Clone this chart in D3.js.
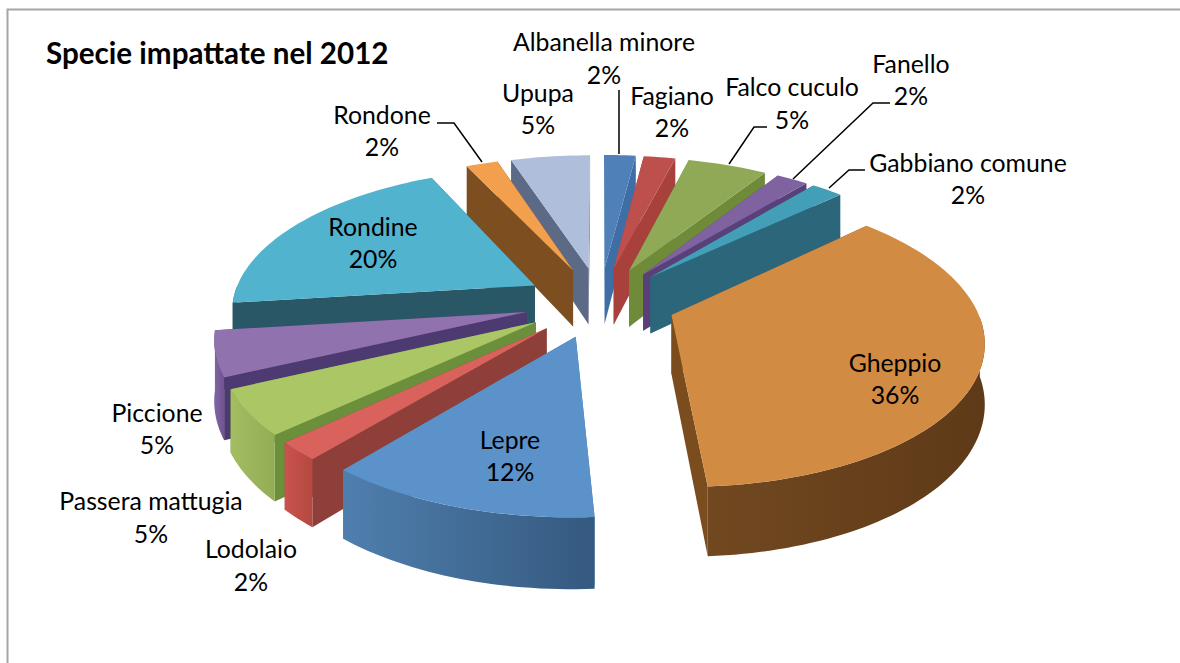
<!DOCTYPE html>
<html><head><meta charset="utf-8">
<script src="https://cdn.jsdelivr.net/npm/d3@7/dist/d3.min.js"></script>
<style>html,body{margin:0;padding:0;background:#fff;overflow:hidden}svg{display:block}
text{font-family:Lato,"Open Sans",sans-serif;fill:#000}</style></head><body>
<script>
const species = ["Albanella minore","Fagiano","Falco cuculo","Fanello","Gabbiano comune","Gheppio","Lepre","Lodolaio","Passera mattugia","Piccione","Rondine","Rondone","Upupa"];
const shares  = [2,2,5,2,2,36,12,2,5,5,20,2,5];
const title = "Specie impattate nel 2012";

const topColors    = ["#4f81b8","#bd504c","#8fa956","#7f62a0","#439fb8","#d28b43","#5b92c9","#d9625d","#abc765","#8f72ae","#52b3cf","#f2a04e","#afbedb"];
const radialColors = ["#3f6ea6","#a8403c","#6f8a38","#5a4079","#2b667a","#7a4c1e","#4a7cb0","#8f3f3a","#6c8f3c","#4d3a70","#2a5766","#7d4e20","#5d6a85"];
const outerFrom    = ["#4a78ad","#b04a46","#8aa050","#7a5f98","#2e6d82","#714820","#4f7fae","#c9534f","#a2bd62","#8265a5","#2a5766","#7d4e20","#8a97b5"];
const outerTo      = ["#3f6a9a","#9a403c","#72893f","#5f4680","#2a6074","#5f3a18","#35597f","#b5483f","#93ad55","#6f5490","#2a5766","#7d4e20","#8a97b5"];

// label block centres: [x, first line y, second line y]
const labelSpots = [[604,41,74],[672,95,127],[792,86,119],[911,63,95],[968,162,194],[895,362,394],[510,439,471],[251,548,581],[151,500,533],[157,412,444],[373,226,258],[382,114,146],[538,92,124]];
const leaders = [
 [[619,90],[619,154]],
 [[767,127],[754,127],[729,164]],
 [[890,103],[873,103],[793,179]],
 [[865,170],[849,170],[829,188]],
 [[437,123],[454,123],[482,162]]
];

const W=1180,H=663, CX=600, CY=302, RX=303, RY=140.5, K=0.1555, EXPLODE=0.25, WALL=58;
const svg=d3.select("body").append("svg").attr("width",W).attr("height",H);
const defs=svg.append("defs");

svg.append("path").attr("d",d3.line()([[7.5,663],[7.5,9.5],[1180,9.5]])).attr("fill","none").attr("stroke","#a6a6a6").attr("stroke-width",2);

const sx=d3.scaleLinear().domain([0,1]).range([CX,CX+RX]);
const sy=d3.scaleLinear().domain([0,1]).range([CY,CY+RY]);
function project(X,Y,lift){const s=1/(1-K*Y);return [sx(X*s),sy(Y*s)+(lift?WALL*s:0)];}

const pie=d3.pie().sort(null).value(d=>d);
const arcs=pie(shares);
const line=d3.line();
const gSlices=svg.append("g");

const slices=arcs.map((a,i)=>{
  const mid=(a.startAngle+a.endAngle)/2;
  const ox=EXPLODE*Math.sin(mid), oy=-EXPLODE*Math.cos(mid);
  const n=Math.max(6,Math.ceil((a.endAngle-a.startAngle)*40));
  const ang=d3.range(n+1).map(j=>a.startAngle+(a.endAngle-a.startAngle)*j/n);
  const pts=ang.map(t=>[ox+Math.sin(t),oy-Math.cos(t),-Math.cos(t)]);
  return {i,oy:-Math.cos(mid),ox,o:oy,pts};
}).sort((p,q)=>p.oy-q.oy);

slices.forEach(s=>{
  const i=s.i, apex=[s.ox,s.o];
  const top=s.pts.map(p=>project(p[0],p[1],false));
  const bot=s.pts.map(p=>project(p[0],p[1],true));
  const at=project(apex[0],apex[1],false), ab=project(apex[0],apex[1],true);
  const g=gSlices.append("g").attr("class","slice");
  // radial walls
  [[top[0],bot[0]],[top[top.length-1],bot[bot.length-1]]].forEach(w=>{
    g.append("path").attr("d",line([at,w[0],w[1],ab])+"Z").attr("fill",radialColors[i]);
  });
  // outer wall: only the part of the rim that faces the viewer
  const front=s.pts.map((p,j)=>p[2]>=0?j:-1).filter(j=>j>=0);
  if(front.length>1){
    const tf=front.map(j=>top[j]), bf=front.map(j=>bot[j]);
    const xs=top.map(p=>p[0]);
    const gid="wall"+i;
    const lg=defs.append("linearGradient").attr("id",gid).attr("gradientUnits","userSpaceOnUse")
      .attr("x1",d3.min(xs)).attr("x2",d3.max(xs)).attr("y1",0).attr("y2",0);
    lg.append("stop").attr("offset",0).attr("stop-color",outerFrom[i]);
    lg.append("stop").attr("offset",1).attr("stop-color",outerTo[i]);
    g.append("path").attr("d",line(tf.concat(bf.slice().reverse()))+"Z").attr("fill",`url(#${gid})`);
  }
  // top face
  g.append("path").attr("d",line([at].concat(top))+"Z").attr("fill",topColors[i]);
});

svg.append("g").selectAll("path").data(leaders).join("path")
  .attr("d",d=>line(d)).attr("fill","none").attr("stroke","#000").attr("stroke-width",1.5);

const total=d3.sum(shares), pct=d3.format(".0%");
const gl=svg.append("g").attr("font-size",24.8).attr("text-anchor","middle").attr("dominant-baseline","central");
species.forEach((n,i)=>{
  const p=labelSpots[i];
  gl.append("text").attr("x",p[0]).attr("y",p[1]).text(n);
  gl.append("text").attr("x",p[0]).attr("y",p[2]).text(pct(shares[i]/total));
});
svg.append("text").attr("x",46).attr("y",52).attr("font-size",29.6).attr("font-weight",700).attr("dominant-baseline","central").text(title);
</script></body></html>
